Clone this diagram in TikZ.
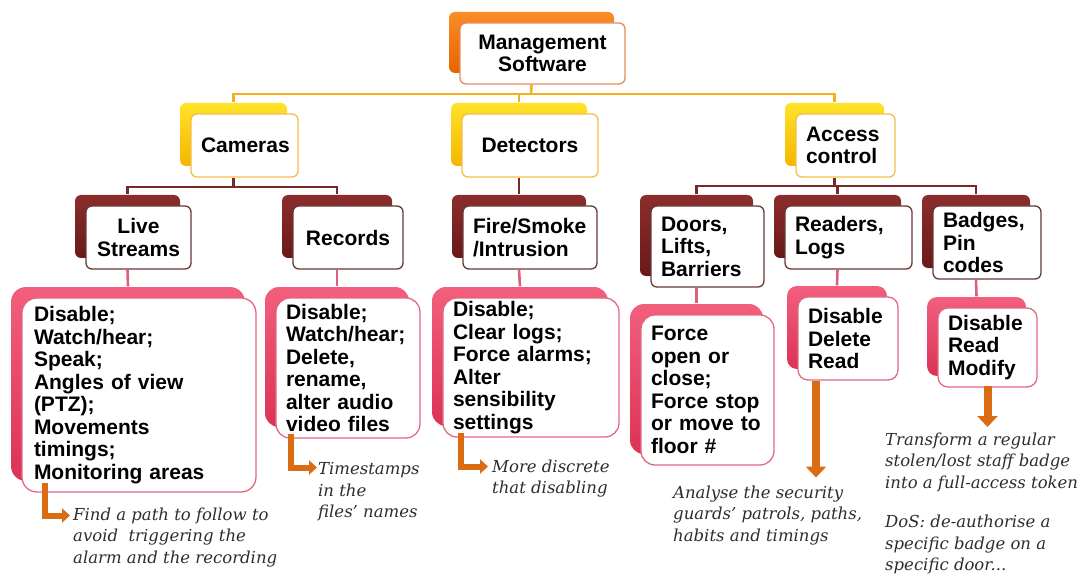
\documentclass[tikz,border=0pt]{standalone}
\usepackage{fontspec}
\setmainfont{Liberation Sans}
\newfontfamily\notefont{DejaVu Serif}
\usetikzlibrary{shadows,arrows.meta}

\definecolor{mgmttop}{RGB}{250,140,40}
\definecolor{mgmtbot}{RGB}{230,100,0}
\definecolor{mgmtedge}{RGB}{230,140,90}
\definecolor{yeltop}{RGB}{255,226,40}
\definecolor{yelbot}{RGB}{245,182,0}
\definecolor{yeledge}{RGB}{245,190,70}
\definecolor{redtop}{RGB}{140,45,45}
\definecolor{redbot}{RGB}{105,25,25}
\definecolor{rededge}{RGB}{105,55,55}
\definecolor{pinktop}{RGB}{242,95,125}
\definecolor{pinkbot}{RGB}{220,50,85}
\definecolor{pinkedge}{RGB}{225,105,130}
\definecolor{topline}{RGB}{248,175,30}
\definecolor{redline}{RGB}{120,40,40}
\definecolor{pinkline}{RGB}{220,95,125}
\definecolor{notearrow}{RGB}{218,108,20}
\definecolor{notetext}{RGB}{45,45,45}

\tikzset{
  box/.style={draw, fill=white, line width=1.3pt, rounded corners=6pt,
    inner xsep=10pt, inner ysep=0pt, text=black,
    font=\bfseries\fontsize{21}{22.5}\selectfont},
  backbox/.style 2 args={general shadow={shadow xshift=-11pt, shadow yshift=11pt,
    top color=#1, bottom color=#2}},
  dims/.style 2 args={text width=#1, minimum height=#2},
  lvlzero/.style={box, draw=mgmtedge, backbox={mgmttop}{mgmtbot}, align=center},
  lvlone/.style={box, draw=yeledge, backbox={yeltop}{yelbot}},
  lvltwo/.style={box, draw=rededge, backbox={redtop}{redbot}},
  lvlthree/.style={box, draw=pinkedge, backbox={pinktop}{pinkbot}, align=left},
  note/.style={inner sep=0pt, anchor=north west, align=left, text=notetext,
    font=\notefont\itshape\fontsize{16.5}{21.5}\selectfont},
  link/.style={line width=2.6pt},
  bend arrow/.style={draw=notearrow, line width=6pt, line join=miter,
    -{Triangle[width=14pt,length=8pt]}},
  drop arrow/.style={draw=notearrow, line width=8pt,
    -{Triangle[width=20pt,length=11pt]}}
}

\begin{document}
\begin{tikzpicture}[x=1pt,y=-1pt]
  \useasboundingbox (0,0) rectangle (1078,585);

  \coordinate (hubzero) at (531,94);
  \coordinate (hubcam) at (233.5,187);
  \coordinate (hubacc) at (834.5,186);

  \node[lvlzero, dims={145pt}{61pt}] (mgmt) at (542.5,53.5) {Management\\Software};

  \node[lvlone, dims={87pt}{63pt}, align=center] (cam) at (244.5,145.5) {Cameras};
  \node[lvlone, dims={116pt}{63pt}, align=center] (det) at (530,145.5) {Detectors};
  \node[lvlone, dims={79pt}{63pt}, align=left] (acc) at (845.5,145.5) {Access\\control};

  \node[lvltwo, dims={85pt}{63pt}, align=center] (live) at (138.5,237.5) {Live\\Streams};
  \node[lvltwo, dims={90pt}{63pt}, align=center] (rec) at (348,237.5) {Records};
  \node[lvltwo, dims={114pt}{63pt}, align=left] (fire) at (530,237.5) {Fire/Smoke\\/Intrusion};
  \node[lvltwo, dims={93pt}{81pt}, align=left] (doors) at (707.5,246.5) {Doors,\\Lifts,\\Barriers};
  \node[lvltwo, dims={107pt}{63pt}, align=left] (readers) at (848.5,237.5) {Readers,\\Logs};
  \node[lvltwo, dims={88pt}{73pt}, align=left] (badges) at (987,242.5) {Badges,\\Pin\\codes};

  \node[lvlthree, dims={210pt}{194pt}, rounded corners=15pt, inner xsep=12pt] (livep) at (139,395)
    {Disable;\\Watch/hear;\\Speak;\\Angles of view\\(PTZ);\\Movements\\timings;\\Monitoring areas};
  \node[lvlthree, dims={124pt}{140pt}, rounded corners=14pt] (recp) at (348,368)
    {Disable;\\Watch/hear;\\Delete,\\rename,\\alter audio\\video files};
  \node[lvlthree, dims={156pt}{139pt}, rounded corners=14pt] (firep) at (531,367.5)
    {Disable;\\Clear logs;\\Force alarms;\\Alter\\sensibility\\settings};
  \node[lvlthree, dims={113pt}{150pt}, rounded corners=14pt] (doorp) at (707.5,390)
    {Force\\open or\\close;\\Force stop\\or move to\\floor \#};
  \node[lvlthree, dims={80pt}{83pt}, rounded corners=10pt] (readp) at (848,338.5)
    {Disable\\Delete\\Read};
  \node[lvlthree, dims={79pt}{79pt}, rounded corners=10pt] (badgep) at (987.5,347.5)
    {Disable\\Read\\Modify};

  % tree links
  \draw[link, draw=topline] ([xshift=-11pt]mgmt.south) -- (hubzero);
  \draw[link, draw=topline] (hubzero) -| ([shift={(-11pt,11pt)}]cam.north);
  \draw[link, draw=topline] (hubzero) -| ([shift={(-11pt,11pt)}]det.north);
  \draw[link, draw=topline] (hubzero) -| ([shift={(-11pt,11pt)}]acc.north);
  \draw[link, draw=redline] ([xshift=-11pt]cam.south) -- (hubcam);
  \draw[link, draw=redline] (hubcam) -| ([shift={(-11pt,11pt)}]live.north);
  \draw[link, draw=redline] (hubcam) -| ([shift={(-11pt,11pt)}]rec.north);
  \draw[link, draw=redline] ([xshift=-11pt]det.south) -- ([shift={(-11pt,11pt)}]fire.north);
  \draw[link, draw=redline] ([xshift=-11pt]acc.south) -- (hubacc);
  \draw[link, draw=redline] (hubacc) -| ([shift={(-11pt,11pt)}]doors.north);
  \draw[link, draw=redline] (hubacc) -| ([shift={(-11pt,11pt)}]readers.north);
  \draw[link, draw=redline] (hubacc) -| ([shift={(-11pt,11pt)}]badges.north);
  \draw[link, draw=pinkline] ([xshift=-11pt]live.south) -- ([shift={(-11pt,11pt)}]livep.north);
  \draw[link, draw=pinkline] ([xshift=-11pt]rec.south) -- ([shift={(-11pt,11pt)}]recp.north);
  \draw[link, draw=pinkline] ([xshift=-11pt]fire.south) -- ([shift={(-11pt,11pt)}]firep.north);
  \draw[link, draw=pinkline] ([xshift=-11pt]doors.south) -- ([shift={(-11pt,11pt)}]doorp.north);
  \draw[link, draw=pinkline] ([xshift=-11pt]readers.south) -- ([shift={(-11pt,11pt)}]readp.north);
  \draw[link, draw=pinkline] ([xshift=-11pt]badges.south) -- ([shift={(-11pt,11pt)}]badgep.north);

  % notes
  \node[note] (findnote) at (73,507.5)
    {Find a path to follow to\\avoid\ \ triggering the\\alarm and the recording};
  \node[note] (timenote) at (318,462.5) {Timestamps\\in the\\files’ names};
  \node[note] (discnote) at (492,459.5) {More discrete\\that disabling};
  \node[note] (guardnote) at (673,485.5)
    {Analyse the security\\guards’ patrols, paths,\\habits and timings};
  \node[note] (badgenote) at (885,432.5)
    {Transform a regular\\stolen/lost staff badge\\into a full-access token\\[18pt]
     DoS: de-authorise a\\specific badge on a\\specific door...};

  \draw[bend arrow] ([shift={(24pt,10pt)}]livep.south west) |- ([shift={(-3pt,-8pt)}]findnote.north west);
  \draw[bend arrow] ([shift={(16pt,5pt)}]recp.south west) |- ([shift={(-1pt,-5pt)}]timenote.north west);
  \draw[bend arrow] ([shift={(19pt,5pt)}]firep.south west) |- ([shift={(-4pt,-7pt)}]discnote.north west);
  \draw[drop arrow] ([xshift=-32pt]readp.south) -- ([shift={(143pt,8pt)}]guardnote.north west);
  \draw[drop arrow] ([yshift=2pt]badgep.south) -- ([shift={(102.5pt,5.5pt)}]badgenote.north west);
\end{tikzpicture}
\end{document}
